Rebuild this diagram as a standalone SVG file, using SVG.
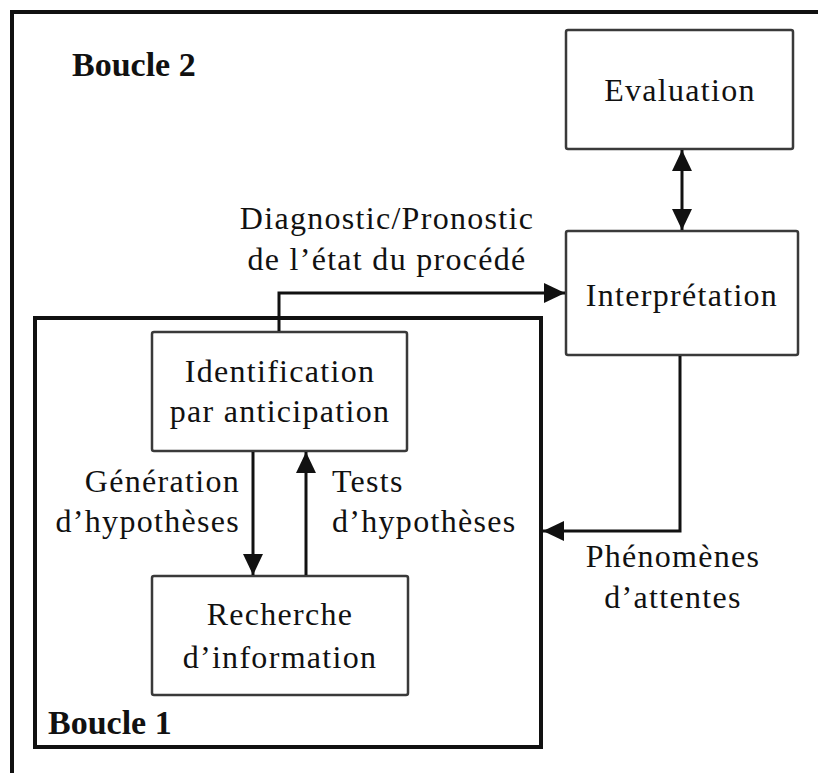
<svg xmlns="http://www.w3.org/2000/svg" width="818" height="773" viewBox="0 0 818 773">
  <style>
    .frame { fill: none; stroke: #111; stroke-width: 4; }
    .box { fill: #fff; stroke: #3a3a3a; stroke-width: 2.5; }
    .loop { fill: none; stroke: #111; stroke-width: 4; }
    .link { fill: none; stroke: #111; stroke-width: 3; }
    .t { font-family: "Liberation Serif", "Times New Roman", serif; font-size: 32px; letter-spacing: 1.3px; fill: #111; }
    .mid { text-anchor: middle; }
    .end { text-anchor: end; }
    .title { font-family: "Liberation Serif", "Times New Roman", serif; font-size: 34px; font-weight: bold; fill: #111; }
  </style>
  <defs>
    <marker id="head" viewBox="0 0 20 20" refX="20" refY="10" markerWidth="21" markerHeight="21" markerUnits="userSpaceOnUse" orient="auto-start-reverse">
      <path d="M0,0.5 L20,10 L0,19.5 z" fill="#111"/>
    </marker>
  </defs>

  <rect width="818" height="773" fill="#fff"/>

  <!-- outer frame: top and left edges only -->
  <path class="frame" d="M12,773 V12 H818"/>
  <text class="title" x="72" y="76">Boucle 2</text>

  <!-- inner loop frame -->
  <g id="boucle1">
    <rect class="loop" x="35" y="318" width="506" height="429"/>
    <text class="title" x="48" y="734">Boucle 1</text>
  </g>

  <g id="evaluation">
    <rect class="box" x="566" y="30" width="227" height="119" rx="2"/>
    <text class="t mid" x="680" y="101">Evaluation</text>
  </g>

  <g id="interpretation">
    <rect class="box" x="566" y="231" width="232" height="124" rx="2"/>
    <text class="t mid" x="682" y="306">Interprétation</text>
  </g>

  <g id="identification">
    <rect class="box" x="152" y="332" width="255" height="119" rx="2"/>
    <text class="t mid" x="280" y="382">Identification</text>
    <text class="t mid" x="280" y="422">par anticipation</text>
  </g>

  <g id="recherche">
    <rect class="box" x="152" y="576" width="256" height="119" rx="2"/>
    <text class="t mid" x="280" y="625">Recherche</text>
    <text class="t mid" x="280" y="668">d’information</text>
  </g>

  <g id="connectors">
    <line class="link" x1="682" y1="150" x2="682" y2="230" marker-start="url(#head)" marker-end="url(#head)"/>
    <path class="link" d="M279,331 V293 H565" marker-end="url(#head)"/>
    <path class="link" d="M680,356 V531 H543" marker-end="url(#head)"/>
    <line class="link" x1="253" y1="452" x2="253" y2="575" marker-end="url(#head)"/>
    <line class="link" x1="306" y1="575" x2="306" y2="452" marker-end="url(#head)"/>
  </g>

  <g id="labels">
    <text class="t mid" x="387" y="229">Diagnostic/Pronostic</text>
    <text class="t mid" x="387" y="270">de l’état du procédé</text>
    <text class="t end" x="240" y="492">Génération</text>
    <text class="t end" x="240" y="532">d’hypothèses</text>
    <text class="t" x="332" y="492">Tests</text>
    <text class="t" x="332" y="532">d’hypothèses</text>
    <text class="t mid" x="673" y="567">Phénomènes</text>
    <text class="t mid" x="673" y="608">d’attentes</text>
  </g>
</svg>
